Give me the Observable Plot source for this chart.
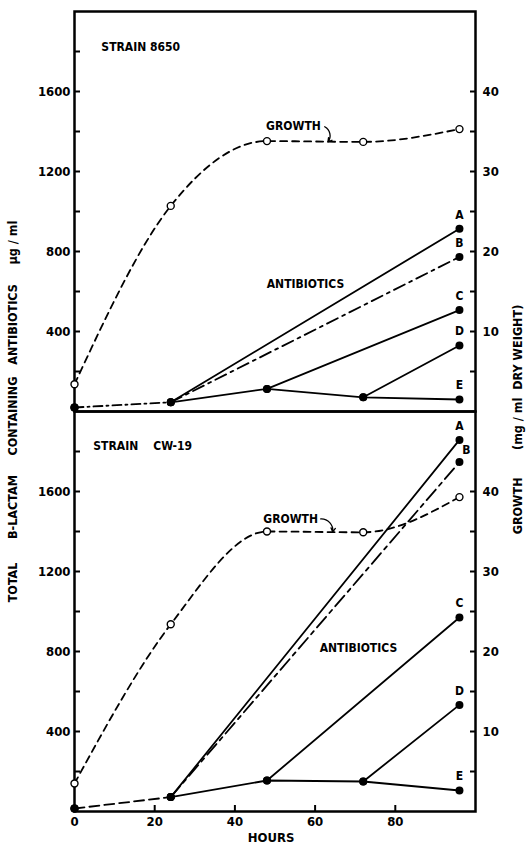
<!DOCTYPE html>
<html><head><meta charset="utf-8">
<script src="https://cdn.jsdelivr.net/npm/d3@7"></script>
<script src="https://cdn.jsdelivr.net/npm/@observablehq/plot@0.6"></script>
<style>
html,body{margin:0;padding:0;background:#fff;}
#chart{width:526px;height:847px;}
</style></head><body><div id="chart"></div>
<script>
// ---- data ----
const strains = ["8650", "CW-19"];
const strainTitles = ["STRAIN\u00a08650", "STRAIN\u00a0\u00a0\u00a0\u00a0CW-19"];
const hours = [0, 24, 48, 72, 96];
const seriesNames = ["A", "B", "C", "D", "E"];
// growth, mg/ml dry weight
const growth8650 = [3.4, 25.7, 33.8, 33.7, 35.3];
const growthCW19 = [3.5, 23.4, 35.0, 34.9, 39.3];
// total B-lactam containing antibiotics, ug/ml (null = no measurement on that curve)
const A8650 = [20, 46, null, null, 914];
const B8650 = [20, 46, null, null, 773];
const C8650 = [null, null, 113, null, 507];
const D8650 = [null, null, null, 71, 330];
const E8650 = [20, 46, 113, 71, 60];
const ACW19 = [15, 72, null, null, 1858];
const BCW19 = [15, 72, null, null, 1747];
const CCW19 = [null, null, 155, null, 970];
const DCW19 = [null, null, null, 150, 533];
const ECW19 = [15, 72, 155, 150, 105];
const leftTicks = [200, 400, 600, 800, 1000, 1200, 1400, 1600, 1800];
const rightTicks = [5, 10, 15, 20, 25, 30, 35, 40];
const xTicks = [0, 20, 40, 60, 80];
const leftTitle = "TOTAL\u00a0\u00a0\u00a0\u00a0\u00a0\u00a0B-LACTAM\u00a0\u00a0\u00a0\u00a0\u00a0CONTAINING\u00a0\u00a0\u00a0ANTIBIOTICS\u00a0\u00a0\u00a0\u00a0\u00a0µg / ml";
const rightTitle = "GROWTH\u00a0\u00a0\u00a0\u00a0\u00a0\u00a0\u00a0(mg / ml\u00a0\u00a0DRY WEIGHT)";
const xTitle = "HOURS";

// annotation placement (data coordinates)
const noteRows = [
  {strain: "8650", text: "GROWTH", hour: 54.6, value: 1426},
  {strain: "8650", text: "ANTIBIOTICS", hour: 57.6, value: 637},
  {strain: "CW-19", text: "GROWTH", hour: 53.9, value: 1463},
  {strain: "CW-19", text: "ANTIBIOTICS", hour: 70.8, value: 819}
];
const arrowRows = [
  {strain: "8650", h1: 62.4, v1: 1424, h2: 63.2, v2: 1348},
  {strain: "CW-19", h1: 61.4, v1: 1463, h2: 64.4, v2: 1398}
];
const strainRows = [
  {strain: "8650", text: strainTitles[0], hour: 6.7, value: 1820},
  {strain: "CW-19", text: strainTitles[1], hour: 4.7, value: 1828}
];

// ---- tables ----
const growthBy = {"8650": growth8650, "CW-19": growthCW19};
const abBy = {
  "8650": {A: A8650, B: B8650, C: C8650, D: D8650, E: E8650},
  "CW-19": {A: ACW19, B: BCW19, C: CCW19, D: DCW19, E: ECW19}
};
const growthRows = strains.flatMap(s => hours.map((h, j) => ({strain: s, hour: h, growth: growthBy[s][j]})));
const abRows = strains.flatMap(s => seriesNames.flatMap(n => hours.map((h, j) => ({strain: s, series: n, hour: h, value: abBy[s][n][j]})))).filter(d => d.value != null);

const FONT = '"Liberation Sans Narrow","DejaVu Sans Condensed","Arial Narrow",sans-serif';
const G = 40; // 1 mg/ml growth == 40 units on the shared vertical scale
const isTop = d => d.strain === "8650";

const chart = Plot.plot({
  width: 526, height: 847,
  marginTop: 10, marginBottom: 36, marginLeft: 74, marginRight: 51,
  x: {domain: [0, 100]},
  y: {domain: [0, 2000]},
  fy: {domain: strains, axis: null, padding: 0},
  style: {fontFamily: FONT, fontWeight: "bold", fontSize: "13px", color: "#000", background: "#fff"},
  marks: [
    Plot.axisY({anchor: "left", ticks: leftTicks, tickSize: -6, tickPadding: 10, strokeWidth: 2,
      tickFormat: d => d % 400 === 0 ? String(d) : "", label: null, fontSize: 13}),
    Plot.axisY({anchor: "right", ticks: rightTicks.map(t => t * G), tickSize: -6, tickPadding: 13, strokeWidth: 2,
      tickFormat: d => (d / G) % 10 === 0 ? String(d / G) : "", label: null, fontSize: 13}),
    Plot.axisX({ticks: xTicks, tickSize: -6, tickPadding: 11, strokeWidth: 2, label: null, fontSize: 13}),
    Plot.frame({strokeWidth: 2.5}),
    // growth
    Plot.line(growthRows, {x: "hour", y: d => d.growth * G, fy: "strain", curve: "monotone-x",
      strokeDasharray: "7,5", strokeWidth: 1.8}),
    // shared early antibiotic segment
    Plot.line(abRows.filter(d => d.series === "E" && d.hour <= 24 && isTop(d)), {x: "hour", y: "value", fy: "strain",
      strokeDasharray: "9,4,2,4", strokeWidth: 1.8}),
    Plot.line(abRows.filter(d => d.series === "E" && d.hour <= 24 && !isTop(d)), {x: "hour", y: "value", fy: "strain",
      strokeDasharray: "10,5", strokeWidth: 1.8}),
    Plot.line(abRows.filter(d => d.series !== "B" && d.hour >= 24), {x: "hour", y: "value", fy: "strain", z: "series",
      strokeWidth: 1.8}),
    Plot.line(abRows.filter(d => d.series === "B" && d.hour >= 24 && isTop(d)), {x: "hour", y: "value", fy: "strain",
      strokeDasharray: "12,5,3,5", strokeWidth: 1.8}),
    Plot.line(abRows.filter(d => d.series === "B" && d.hour >= 24 && !isTop(d)), {x: "hour", y: "value", fy: "strain",
      strokeDasharray: "14,5,4,5", strokeWidth: 1.8}),
    Plot.dot(growthRows, {x: "hour", y: d => d.growth * G, fy: "strain", r: 3.5, fill: "white", stroke: "black", strokeWidth: 1.4}),
    Plot.dot(abRows, {x: "hour", y: "value", fy: "strain", r: 4, fill: "black"}),
    Plot.text(abRows.filter(d => d.hour === 96 && !(d.strain === "CW-19" && d.series === "B")),
      {x: "hour", y: "value", fy: "strain", text: "series", dy: -14, fontSize: 12}),
    Plot.text(abRows.filter(d => d.hour === 96 && d.strain === "CW-19" && d.series === "B"),
      {x: "hour", y: "value", fy: "strain", text: "series", dy: -12, dx: 7, fontSize: 12}),
    // annotations
    Plot.text(noteRows, {x: "hour", y: "value", fy: "strain", text: "text", fontSize: 12, letterSpacing: 0.6}),
    Plot.arrow(arrowRows, {x1: "h1", y1: "v1", x2: "h2", y2: "v2", fy: "strain", bend: 50, headLength: 5, strokeWidth: 1.3}),
    Plot.text(strainRows, {x: "hour", y: "value", fy: "strain", text: "text", textAnchor: "start", fontSize: 12}),
    // axis titles
    Plot.text([{strain: "8650"}], {fy: "strain", frameAnchor: "bottom-left", textAnchor: "middle", dx: -58, dy: 0, rotate: -90,
      text: () => leftTitle, fontSize: 12.5}),
    Plot.text([{strain: "8650"}], {fy: "strain", frameAnchor: "bottom-right", textAnchor: "middle", dx: 46, dy: 8, rotate: -90,
      text: () => rightTitle, fontSize: 12.5}),
    Plot.text([{strain: "CW-19"}], {fy: "strain", frameAnchor: "bottom", dx: -4, dy: 30,
      text: () => xTitle, fontSize: 13})
  ]
});
document.getElementById("chart").appendChild(chart);
</script>
</body></html>
